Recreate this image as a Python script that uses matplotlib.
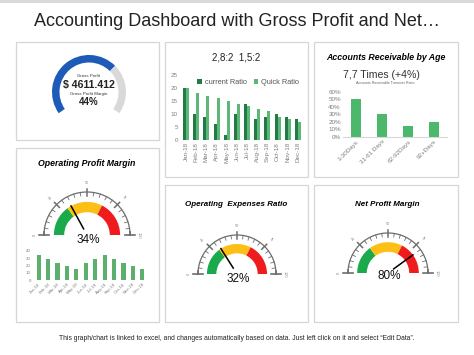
import numpy as np
import matplotlib
matplotlib.use("Agg")
import matplotlib.pyplot as plt
from matplotlib.patches import Wedge, Rectangle

plt.rcParams['font.family'] = ['Liberation Sans', 'DejaVu Sans']

W, H = 474, 355

# data
months = ["Jan-18", "Feb-18", "Mar-18", "Apr-18", "May-18", "Jun-18",
          "Jul-18", "Aug-18", "Sep-18", "Oct-18", "Nov-18", "Dec-18"]
current_ratio = [20, 10, 9, 6, 2, 10, 14, 8, 9, 10, 9, 8]
quick_ratio = [20, 18, 17, 16, 15, 14, 13, 12, 11, 9, 8, 7]
ar_buckets = ["1-30Days", "31-61 Days", "62-92Days", "92+Days"]
ar_share = [50, 30, 14, 20]
opm_monthly = [35, 29, 24, 19, 15, 24, 29, 35, 29, 24, 19, 15]
gross_profit = 4611.412
gross_margin = 44
gross_arc = [68, 32]          # filled / empty part of the donut
opm_value = 34
oer_value = 32
npm_value = 80
zones = [30, 65, 100]
zone_colors = ["#1aaa4b", "#fcbf16", "#ee1c1c"]

fig = plt.figure(figsize=(W / 100, H / 100), dpi=100)
bg = fig.add_axes([0, 0, 1, 1])
bg.set_xlim(0, W)
bg.set_ylim(0, H)
bg.axis("off")


def Y(y):
    return H - y


def box(x0, y0, x1, y1):
    bg.add_patch(Rectangle((x0, Y(y1)), x1 - x0, y1 - y0, fill=False,
                           ec="#d6d6d6", lw=0.9))


def sub_axes(x0, y0, x1, y1):
    return fig.add_axes([x0 / W, 1 - y1 / H, (x1 - x0) / W, (y1 - y0) / H])


def style(ax):
    for s in ax.spines.values():
        s.set_visible(False)
    ax.tick_params(length=0, labelsize=4.5, colors="#7f7f7f", pad=1.5)


# top grey strip and title
bg.add_patch(Rectangle((0, Y(3)), W, 3, color="#d9d9d9", lw=0))
bg.text(237, Y(22), "Accounting Dashboard with Gross Profit and Net\u2026",
        ha="center", va="center", fontsize=13, color="#222222")

box(16, 42, 159, 140)
box(16, 148, 159, 322)
box(165, 42, 308, 177)
box(165, 185, 308, 322)
box(314, 42, 458, 177)
box(314, 185, 458, 322)

# gross profit donut
cx, cy, r = 89, Y(92), 37
start, end = 215, -35
span = start - end
mid = start - span * gross_arc[0] / sum(gross_arc)
bg.add_patch(Wedge((cx, cy), r, mid, start, width=7.5, color="#1e5bb8", lw=0))
bg.add_patch(Wedge((cx, cy), r, end, mid, width=7.5, color="#d9d9d9", lw=0))
bg.text(cx, Y(76), "Gross Profit", ha="center", va="center", fontsize=3.2, color="#333333")
bg.text(cx, Y(85), f"$ {gross_profit}", ha="center", va="center", fontsize=7.6,
        fontweight="bold", color="#222222")
bg.text(cx, Y(93.5), "Gross Profit Margin", ha="center", va="center", fontsize=3.2,
        color="#333333")
bg.text(cx, Y(102), f"{gross_margin}%", ha="center", va="center", fontsize=7,
        fontweight="bold", color="#222222")


def gauge(cx, cy, rs, value, label_y):
    cy = Y(cy)
    # scale arc
    th = np.linspace(0, np.pi, 100)
    bg.plot(cx + rs * np.cos(th), cy + rs * np.sin(th), color="#6d6d6d", lw=0.9)
    for v in range(0, 101, 5):
        a = np.radians(180 - v * 1.8)
        if v % 25 == 0:
            r0, r1 = rs - 4, rs + 3
        else:
            r0, r1 = rs - 3.5, rs
        if v in (0, 100):
            bg.plot([cx + (rs - 5) * np.cos(a), cx + (rs + 5) * np.cos(a)],
                    [cy, cy], color="#6d6d6d", lw=1.2)
            bg.plot([cx + rs * np.cos(a)] * 2, [cy, cy + 3], color="#6d6d6d", lw=1.2)
        else:
            bg.plot([cx + r0 * np.cos(a), cx + r1 * np.cos(a)],
                    [cy + r0 * np.sin(a), cy + r1 * np.sin(a)],
                    color="#6d6d6d", lw=1.1 if v % 25 == 0 else 0.6)
        if v % 25 == 0:
            rl = rs + 9
            bg.text(cx + rl * np.cos(a), cy + rl * np.sin(a), str(v), ha="center",
                    va="center", fontsize=2.8, color="#888888",
                    rotation=90 - v * 1.8)
    # coloured band
    ro = rs * 0.77
    lo = 0
    for z, c in zip(zones, zone_colors):
        bg.add_patch(Wedge((cx, cy), ro, 180 - z * 1.8, 180 - lo * 1.8,
                           width=rs * 0.24, color=c, lw=0))
        lo = z
    a = np.radians(180 - value * 1.8)
    bg.plot([cx + 7 * np.cos(a), cx + ro * np.cos(a)],
            [cy + 7 * np.sin(a), cy + ro * np.sin(a)], color="black", lw=1.1)
    bg.text(cx + 1, Y(label_y), f"{value}%", ha="center", va="center",
            fontsize=8.5, color="#111111")


# operating profit margin
bg.text(87, Y(163), "Operating Profit Margin", ha="center", va="center",
        fontsize=6.3, fontweight="bold", style="italic")
gauge(87, 235, 43, opm_value, 240)
ax = sub_axes(33, 251, 148, 280)
ax.bar(range(12), opm_monthly, width=0.45, color="#5cb06e")
ax.set_xlim(-0.6, 11.6)
ax.set_ylim(0, 40)
ax.set_yticks([0, 10, 20, 30, 40])
ax.set_xticks(range(12))
ax.set_xticklabels(months, rotation=45, ha="right", rotation_mode="anchor")
style(ax)
ax.tick_params(labelsize=3.2)

# operating expenses ratio
bg.text(236, Y(205), "Operating  Expenses Ratio", ha="center", va="center",
        fontsize=5.8, fontweight="bold", style="italic")
gauge(237, 274, 39, oer_value, 279)

# net profit margin
bg.text(387, Y(205), "Net Profit Margin", ha="center", va="center",
        fontsize=5.8, fontweight="bold", style="italic")
gauge(388, 273, 40, npm_value, 276)

# current / quick ratio
bg.text(236, Y(57), "2,8:2  1,5:2", ha="center", va="center", fontsize=7,
        color="#222222")
ax = sub_axes(180, 75, 304, 140)
x = np.arange(12)
ax.bar(x - 0.15, current_ratio, width=0.3, color="#237a45", label="current Ratio")
ax.bar(x + 0.15, quick_ratio, width=0.3, color="#5cb878", label="Quick Ratio")
ax.set_xlim(-0.6, 11.6)
ax.set_ylim(0, 25)
ax.set_yticks(range(0, 26, 5))
ax.set_xticks(x)
ax.set_xticklabels(months, rotation=90)
style(ax)
ax.legend(loc="upper center", bbox_to_anchor=(0.55, 0.98), ncol=2, frameon=False,
          fontsize=5.3, handlelength=0.6, handleheight=0.6, columnspacing=1.0,
          handletextpad=0.4, labelcolor="#555555", borderaxespad=0)

# accounts receivable
bg.text(386, Y(58), "Accounts Receivable by Age", ha="center", va="center",
        fontsize=6.3, fontweight="bold", style="italic")
bg.text(381, Y(75), "7,7 Times (+4%)", ha="center", va="center", fontsize=7.6,
        color="#333333")
bg.text(385, Y(83), "Accounts Receivable Turnover Ratio", ha="center", va="center",
        fontsize=2.6, color="#666666")
ax = sub_axes(343, 92, 447, 137)
ax.bar(range(4), ar_share, width=0.42, color="#4cb86c")
ax.set_xlim(-0.5, 3.5)
ax.set_ylim(0, 60)
ax.set_yticks(range(0, 61, 10))
ax.set_yticklabels([f"{v}%" for v in range(0, 61, 10)])
ax.set_xticks(range(4))
ax.set_xticklabels(ar_buckets, rotation=45, ha="right", rotation_mode="anchor")
style(ax)
ax.spines["bottom"].set_visible(True)
ax.spines["bottom"].set_color("#d9d9d9")
ax.tick_params(labelsize=4.5)

# footer
bg.text(237, Y(339), "This graph/chart is linked to excel, and changes automatically based "
        "on data. Just left click on it and select \u201cEdit Data\u201d.",
        ha="center", va="center", fontsize=4.9, color="#222222")

fig.savefig("out.png", dpi=100)
